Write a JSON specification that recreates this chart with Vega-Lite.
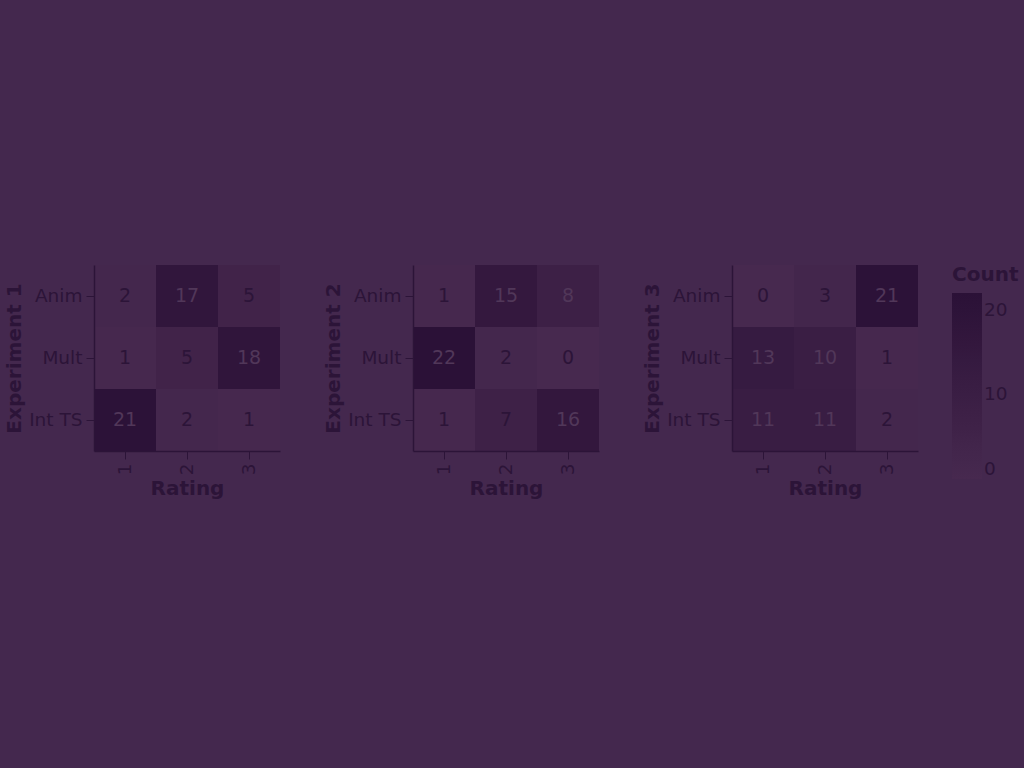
{
  "$schema": "https://vega.github.io/schema/vega-lite/v6.json",
  "background": "#44284e",
  "padding": {"top": 265, "left": 4, "right": 5, "bottom": 269},
  "data": {"values": [
    {"exp": 1, "model": "Anim", "rating": 1, "count": 2},
    {"exp": 1, "model": "Anim", "rating": 2, "count": 17},
    {"exp": 1, "model": "Anim", "rating": 3, "count": 5},
    {"exp": 1, "model": "Mult", "rating": 1, "count": 1},
    {"exp": 1, "model": "Mult", "rating": 2, "count": 5},
    {"exp": 1, "model": "Mult", "rating": 3, "count": 18},
    {"exp": 1, "model": "Int TS", "rating": 1, "count": 21},
    {"exp": 1, "model": "Int TS", "rating": 2, "count": 2},
    {"exp": 1, "model": "Int TS", "rating": 3, "count": 1},
    {"exp": 2, "model": "Anim", "rating": 1, "count": 1},
    {"exp": 2, "model": "Anim", "rating": 2, "count": 15},
    {"exp": 2, "model": "Anim", "rating": 3, "count": 8},
    {"exp": 2, "model": "Mult", "rating": 1, "count": 22},
    {"exp": 2, "model": "Mult", "rating": 2, "count": 2},
    {"exp": 2, "model": "Mult", "rating": 3, "count": 0},
    {"exp": 2, "model": "Int TS", "rating": 1, "count": 1},
    {"exp": 2, "model": "Int TS", "rating": 2, "count": 7},
    {"exp": 2, "model": "Int TS", "rating": 3, "count": 16},
    {"exp": 3, "model": "Anim", "rating": 1, "count": 0},
    {"exp": 3, "model": "Anim", "rating": 2, "count": 3},
    {"exp": 3, "model": "Anim", "rating": 3, "count": 21},
    {"exp": 3, "model": "Mult", "rating": 1, "count": 13},
    {"exp": 3, "model": "Mult", "rating": 2, "count": 10},
    {"exp": 3, "model": "Mult", "rating": 3, "count": 1},
    {"exp": 3, "model": "Int TS", "rating": 1, "count": 11},
    {"exp": 3, "model": "Int TS", "rating": 2, "count": 11},
    {"exp": 3, "model": "Int TS", "rating": 3, "count": 2}
  ]},
  "spacing": 43,
  "hconcat": [
    {
      "width": 186, "height": 186,
      "transform": [{"filter": "datum.exp == 1"}],
      "encoding": {
        "x": {"field": "rating", "type": "ordinal", "title": "Rating", "axis": {"labelAngle": -90}},
        "y": {"field": "model", "type": "nominal", "title": "Experiment 1", "sort": ["Anim", "Mult", "Int TS"]}
      },
      "layer": [
        {"mark": {"type": "rect"}, "encoding": {"color": {"field": "count", "type": "quantitative", "title": "Count", "scale": {"domain": [0, 22], "range": ["#47294f", "#2b1137"]}}}},
        {"mark": {"type": "text", "fontSize": 19, "font": "DejaVu Sans"}, "encoding": {"text": {"field": "count", "type": "quantitative"}, "color": {"condition": {"test": "datum.count > 7.5", "value": "#513759"}, "value": "#2c1438"}}}
      ]
    },
    {
      "width": 186, "height": 186,
      "transform": [{"filter": "datum.exp == 2"}],
      "encoding": {
        "x": {"field": "rating", "type": "ordinal", "title": "Rating", "axis": {"labelAngle": -90}},
        "y": {"field": "model", "type": "nominal", "title": "Experiment 2", "sort": ["Anim", "Mult", "Int TS"]}
      },
      "layer": [
        {"mark": {"type": "rect"}, "encoding": {"color": {"field": "count", "type": "quantitative", "title": "Count", "scale": {"domain": [0, 22], "range": ["#47294f", "#2b1137"]}}}},
        {"mark": {"type": "text", "fontSize": 19, "font": "DejaVu Sans"}, "encoding": {"text": {"field": "count", "type": "quantitative"}, "color": {"condition": {"test": "datum.count > 7.5", "value": "#513759"}, "value": "#2c1438"}}}
      ]
    },
    {
      "width": 186, "height": 186,
      "transform": [{"filter": "datum.exp == 3"}],
      "encoding": {
        "x": {"field": "rating", "type": "ordinal", "title": "Rating", "axis": {"labelAngle": -90}},
        "y": {"field": "model", "type": "nominal", "title": "Experiment 3", "sort": ["Anim", "Mult", "Int TS"]}
      },
      "layer": [
        {"mark": {"type": "rect"}, "encoding": {"color": {"field": "count", "type": "quantitative", "title": "Count", "scale": {"domain": [0, 22], "range": ["#47294f", "#2b1137"]}}}},
        {"mark": {"type": "text", "fontSize": 19, "font": "DejaVu Sans"}, "encoding": {"text": {"field": "count", "type": "quantitative"}, "color": {"condition": {"test": "datum.count > 7.5", "value": "#513759"}, "value": "#2c1438"}}}
      ]
    }
  ],
  "resolve": {"scale": {"color": "shared"}},
  "config": {
    "font": "DejaVu Sans",
    "view": {"stroke": null},
    "axis": {
      "labelFont": "DejaVu Sans", "labelFontSize": 18.5, "labelColor": "#2c1438",
      "titleFont": "DejaVu Sans", "titleFontSize": 20, "titleFontWeight": "bold", "titleColor": "#2c1438",
      "domainColor": "#2c1438", "tickColor": "#2c1438", "tickSize": 8, "labelPadding": 4, "domainWidth": 1.5,
      "grid": false
    },
    "legend": {
      "titleFont": "DejaVu Sans", "titleFontSize": 20, "titleFontWeight": "bold", "titleColor": "#2c1438", "titlePadding": 8,
      "labelFont": "DejaVu Sans", "labelFontSize": 18.5, "labelColor": "#2c1438",
      "gradientThickness": 30, "gradientLength": 186, "offset": 34, "tickCount": 3
    }
  }
}
